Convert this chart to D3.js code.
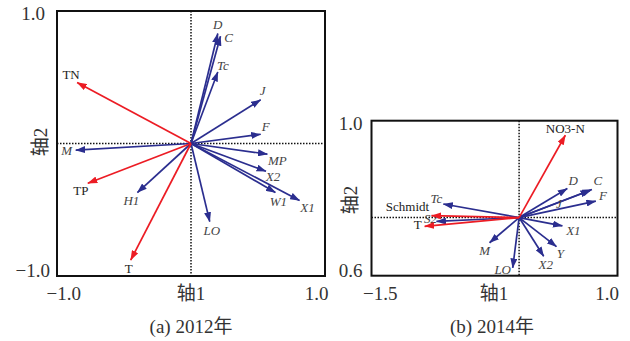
<!DOCTYPE html>
<html>
<head>
<meta charset="utf-8">
<script src="https://cdn.jsdelivr.net/npm/d3@7"></script>
<style>
  html, body { margin: 0; padding: 0; background: #fff; }
  svg { display: block; }
  svg text { font-family: "Liberation Serif", "Times New Roman", "DejaVu Serif", "Noto Sans CJK SC", serif; }
</style>
</head>
<body>
<svg id="chart" width="630" height="341"></svg>
<script>
// ---- 2012 ordination: species (blue) and environment (red) vectors ----
const species2012 = ["D", "C", "Tc", "J", "F", "M", "MP", "X2", "W1", "X1", "LO", "H1"];
const species2012X = [0.20, 0.22, 0.20, 0.52, 0.52, -0.86, 0.57, 0.56, 0.63, 0.81, 0.14, -0.40];
const species2012Y = [0.83, 0.81, 0.54, 0.33, 0.07, -0.05, -0.08, -0.21, -0.37, -0.43, -0.59, -0.37];
const env2012 = ["TN", "TP", "T"];
const env2012X = [-0.85, -0.77, -0.45];
const env2012Y = [0.46, -0.30, -0.88];

// ---- 2014 ordination ----
const species2014 = ["D", "C", "J", "F", "X1", "Y", "X2", "LO", "M", "Tc", "S2"];
const species2014X = [0.49, 0.74, 0.72, 0.78, 0.44, 0.38, 0.25, -0.065, -0.30, -0.77, -0.84];
const species2014Y = [0.30, 0.29, 0.28, 0.17, -0.086, -0.30, -0.40, -0.52, -0.26, 0.14, -0.04];
const env2014 = ["NO3-N", "Schmidt", "T"];
const env2014X = [0.47, -0.89, -0.96];
const env2014Y = [0.85, 0.02, -0.09];

// axis extents and the tick labels printed on them
const xTicks2012 = [-1.0, 1.0];
const yTicks2012 = [-1.0, 1.0];
const xTickLabels2012 = ["\u22121.0", "1.0"];
const yTickLabels2012 = ["\u22121.0", "1.0"];
const xTicks2014 = [-1.5, 1.0];
const yTicks2014 = [-0.6, 1.0];
const xTickLabels2014 = ["\u22121.5", "1.0"];
const yTickLabels2014 = ["0.6", "1.0"];

const axisTitleX = "轴1";
const axisTitleY = "轴2";
const captions = ["(a) 2012年", "(b) 2014年"];

// label placement relative to each arrow tip (pixels)
const labelOffsets2012 = {
  D: [0, -9], C: [8, 1], Tc: [5, -6], J: [2, -9], F: [5, -8], M: [-9, 0],
  MP: [10, 6], X2: [7, 5], W1: [3, 9], X1: [8, 7], LO: [2, 9], H1: [-6, 8],
  TN: [-6, -8], TP: [-7, 7], T: [-2, 8]
};
const labelOffsets2014 = {
  D: [6, -8], C: [6, -9], J: [-31, 13], F: [7, -6], X1: [11, 5], Y: [4, 7],
  X2: [2, 8], LO: [-10, 2], M: [-5, 8], Tc: [-7, -6], S2: [-6, -3],
  "NO3-N": [0, -7], Schmidt: [-24, -9], T: [-7, -2]
};

const BLUE = "#2b2e8f";
const RED = "#ec1c24";

const svg = d3.select("#chart");
svg.append("rect").attr("width", 630).attr("height", 341).attr("fill", "#fff");

const defs = svg.append("defs");
[["head-blue", BLUE], ["head-red", RED]].forEach(([id, col]) => {
  defs.append("marker")
    .attr("id", id)
    .attr("markerUnits", "userSpaceOnUse")
    .attr("viewBox", "0 0 10 7")
    .attr("markerWidth", 10).attr("markerHeight", 7)
    .attr("refX", 9.5).attr("refY", 3.5)
    .attr("orient", "auto")
    .append("path").attr("d", "M0,0 L10,3.5 L0,7 Z").attr("fill", col);
});

function panel(opts) {
  const x = d3.scaleLinear().domain(opts.xDomain).range(opts.xRange);
  const y = d3.scaleLinear().domain(opts.yDomain).range(opts.yRange);
  const g = svg.append("g");

  // zero reference lines
  g.append("line")
    .attr("x1", x(0)).attr("x2", x(0))
    .attr("y1", opts.yRange[1]).attr("y2", opts.yRange[0])
    .attr("stroke", "#111").attr("stroke-width", 1.5)
    .attr("stroke-dasharray", "1.5,1.5");
  g.append("line")
    .attr("x1", opts.xRange[0]).attr("x2", opts.xRange[1])
    .attr("y1", y(0)).attr("y2", y(0))
    .attr("stroke", "#111").attr("stroke-width", 1.5)
    .attr("stroke-dasharray", "1.5,1.5");

  // vectors
  function drawVectors(names, xs, ys, color, marker, italic, offsets) {
    const data = names.map((n, i) => ({ n, vx: xs[i], vy: ys[i] }));
    g.selectAll(null).data(data).enter().append("line")
      .attr("x1", x(0)).attr("y1", y(0))
      .attr("x2", d => x(d.vx)).attr("y2", d => y(d.vy))
      .attr("stroke", color).attr("stroke-width", 1.7)
      .attr("marker-end", `url(#${marker})`);
    g.selectAll(null).data(data).enter().append("text")
      .attr("x", d => x(d.vx) + offsets[d.n][0])
      .attr("y", d => y(d.vy) + offsets[d.n][1])
      .attr("text-anchor", "middle")
      .attr("dominant-baseline", "central")
      .style("font-size", "13px")
      .style("font-style", italic ? "italic" : "normal")
      .attr("fill", italic ? "#444" : "#222")
      .text(d => d.n);
  }
  drawVectors(opts.sp, opts.spX, opts.spY, BLUE, "head-blue", true, opts.offsets);
  drawVectors(opts.env, opts.envX, opts.envY, RED, "head-red", false, opts.offsets);

  // frame
  g.append("rect")
    .attr("x", opts.xRange[0]).attr("y", opts.yRange[1])
    .attr("width", opts.xRange[1] - opts.xRange[0])
    .attr("height", opts.yRange[0] - opts.yRange[1])
    .attr("fill", "none").attr("stroke", "#111").attr("stroke-width", 2);

  // axes with end labels only
  const xAxis = d3.axisBottom(x).tickValues(opts.xTicks).tickSize(0)
    .tickFormat((d, i) => opts.xLabels[i]);
  const gx = g.append("g").attr("transform", `translate(0,${opts.yRange[0]})`).call(xAxis);
  gx.attr("font-family", null).attr("font-size", null);
  gx.select(".domain").remove();
  gx.selectAll("text")
    .style("font-size", "19px").attr("fill", "#333")
    .attr("y", 11).attr("dy", "0.71em")
    .attr("text-anchor", (d, i) => i === 0 ? "start" : "end")
    .attr("dx", (d, i) => opts.xDx[i]);

  const yAxis = d3.axisLeft(y).tickValues(opts.yTicks).tickSize(0)
    .tickFormat((d, i) => opts.yLabels[i]);
  const gy = g.append("g").attr("transform", `translate(${opts.xRange[0]},0)`).call(yAxis);
  gy.attr("font-family", null).attr("font-size", null);
  gy.select(".domain").remove();
  gy.selectAll("text")
    .style("font-size", "19px").attr("fill", "#333")
    .attr("x", (d, i) => opts.yDx[i])
    .attr("dy", (d, i) => opts.yDy[i]);

  // axis titles and caption
  g.append("text")
    .attr("x", x(0) + opts.titleXShift).attr("y", 300)
    .attr("text-anchor", "middle")
    .style("font-size", "19px").attr("fill", "#333")
    .text(axisTitleX);
  g.append("text")
    .attr("transform", `translate(${opts.yTitleX},${opts.yTitleY}) rotate(-90)`)
    .attr("text-anchor", "middle")
    .attr("dominant-baseline", "central")
    .style("font-size", "19px").attr("fill", "#333")
    .text(axisTitleY);
  g.append("text")
    .attr("x", opts.captionX).attr("y", 333)
    .attr("text-anchor", "middle")
    .style("font-size", "19px").attr("fill", "#333")
    .text(opts.caption);
}

panel({
  xDomain: [-1, 1], xRange: [57, 325],
  yDomain: [-1, 1], yRange: [276, 11],
  sp: species2012, spX: species2012X, spY: species2012Y,
  env: env2012, envX: env2012X, envY: env2012Y,
  offsets: labelOffsets2012,
  xTicks: xTicks2012, xLabels: xTickLabels2012, xDx: [-11, 3],
  yTicks: yTicks2012, yLabels: yTickLabels2012, yDx: [-7, -12], yDy: ["0.0em", "0.45em"],
  titleXShift: 0, yTitleX: 40, yTitleY: 142,
  captionX: 191, caption: captions[0]
});

panel({
  xDomain: [-1.5, 1.0], xRange: [371.5, 617.5],
  yDomain: [-0.6, 1.0], yRange: [275.7, 120.7],
  sp: species2014, spX: species2014X, spY: species2014Y,
  env: env2014, envX: env2014X, envY: env2014Y,
  offsets: labelOffsets2014,
  xTicks: xTicks2014, xLabels: xTickLabels2014, xDx: [-9, 1],
  yTicks: yTicks2014, yLabels: yTickLabels2014, yDx: [-9, -9], yDy: ["0.05em", "0.45em"],
  titleXShift: -25, yTitleX: 350, yTitleY: 200,
  captionX: 492, caption: captions[1]
});
</script>
</body>
</html>
